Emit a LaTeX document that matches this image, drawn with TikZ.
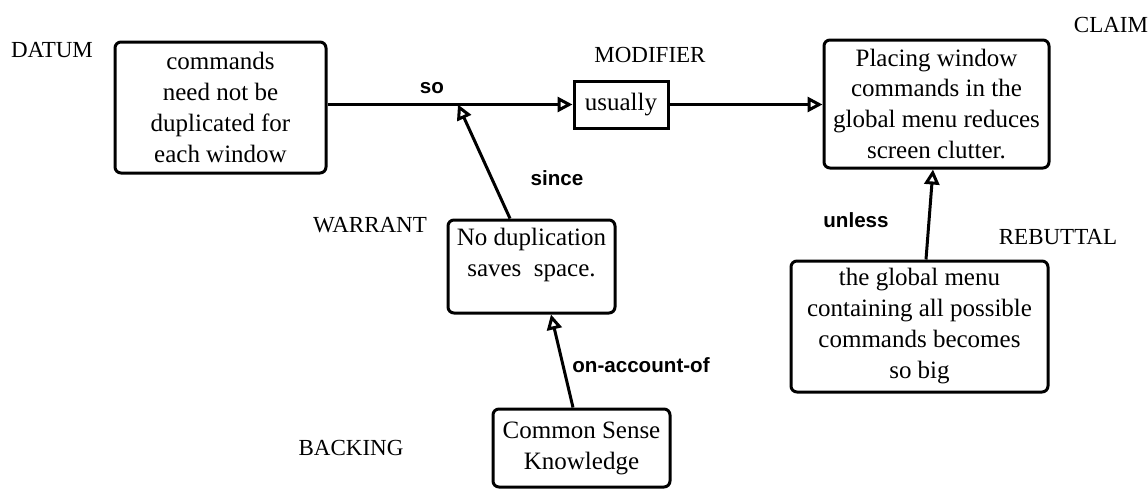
\documentclass[tikz,border=0pt]{standalone}
\usepackage{fontspec}
\setmainfont{Liberation Serif}
\setsansfont{Liberation Sans}
\usetikzlibrary{arrows.meta}
\begin{document}
\begin{tikzpicture}[x=0.5pt,y=-0.5pt,
  claimbox/.style={draw,line width=1.5pt,rounded corners=3pt,align=center,inner sep=0pt,
    font=\fontsize{12.5}{15.5}\selectfont},
  modbox/.style={draw,line width=1.5pt,align=center,inner sep=0pt,
    font=\fontsize{12.5}{15.5}\selectfont},
  role/.style={font=\fontsize{11.5}{14}\selectfont,inner sep=0pt},
  linklabel/.style={font=\sffamily\bfseries\fontsize{10.3}{12}\selectfont,inner sep=0pt},
  conn/.style={line width=1.5pt,-{Triangle[open,length=7.5pt,width=7.5pt]}}
]
\useasboundingbox (0,0) rectangle (1148,493);

% boxes
\node[claimbox,minimum width=105.5pt,minimum height=65.5pt] (datum) at (220.5,107.5)
  {commands\\need not be\\duplicated for\\each window};
\node[modbox,minimum width=47pt,minimum height=23.5pt] (usually) at (621,104.5) {usually};
\node[claimbox,minimum width=112.5pt,minimum height=64pt] (claim) at (936.5,104)
  {Placing window\\commands in the\\global menu reduces\\screen clutter.};
\node[claimbox,minimum width=83.5pt,minimum height=46.5pt] (warrant) at (531.5,266.5)
  {No duplication\\saves\ \ space.\\[-6pt]\strut};
\node[claimbox,minimum width=88.5pt,minimum height=39pt] (backing) at (581.5,448)
  {Common Sense\\Knowledge};
\node[claimbox,minimum width=128.5pt,minimum height=65.5pt] (rebuttal) at (919.5,326.5)
  {the global menu\\containing all possible\\commands becomes\\so big};

% role labels
\node[role] (ldatum) at (52,50) {DATUM};
\node[role] (lmod) at (650,55) {MODIFIER};
\node[role] (lclaim) at (1111,25) {CLAIM};
\node[role] (lwarrant) at (370,225) {WARRANT};
\node[role] (lrebuttal) at (1058,237) {REBUTTAL};
\node[role] (lbacking) at (351,448) {BACKING};

% connector labels
\node[linklabel] (lso) at (432,88) {so};
\node[linklabel] (lsince) at (557,178) {since};
\node[linklabel] (lunless) at (856,220) {unless};
\node[linklabel] (lonaccount) at (641,365) {on-account-of};

% connectors
\coordinate (so) at (458,104.5);
\draw[conn] (datum.east |- usually.west) -- (usually.west);
\draw[conn] (usually.east) -- (claim.west |- usually.east);
\draw[conn] ([xshift=-10.75pt]warrant.north) -- (so);
\draw[conn] ([xshift=-4.25pt]backing.north) -- ([xshift=9.75pt]warrant.south);
\draw[conn] ([xshift=3.25pt]rebuttal.north) -- ([xshift=-1.75pt]claim.south);
\end{tikzpicture}
\end{document}
